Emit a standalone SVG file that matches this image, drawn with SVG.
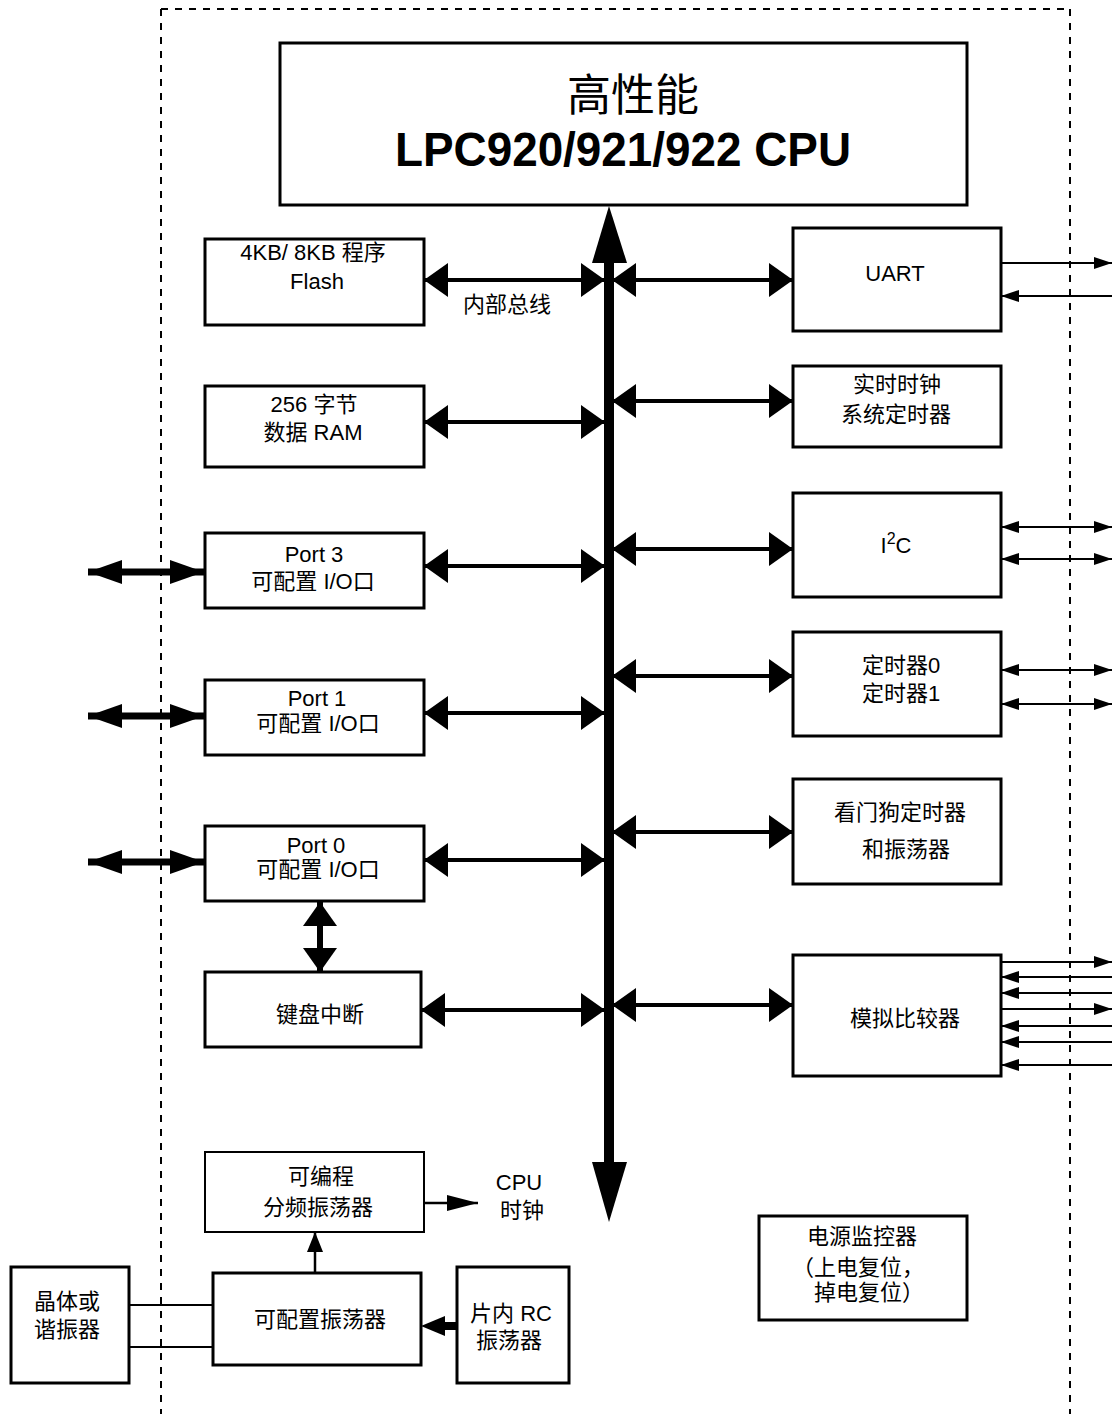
<svg xmlns="http://www.w3.org/2000/svg" width="1112" height="1414" viewBox="0 0 1112 1414">
<style>
.bx{fill:#fff;stroke:#000;stroke-width:3}
.t{font-family:"Liberation Sans","Noto Sans CJK SC",sans-serif;font-size:22px;fill:#000;text-anchor:middle}
.bus{stroke:#000;stroke-width:4;fill:none;marker-start:url(#ah);marker-end:url(#ah)}
.ext{stroke:#000;stroke-width:2;fill:none}
.port{stroke:#000;stroke-width:7;fill:none;marker-start:url(#ph);marker-end:url(#ph)}
.dash{stroke:#000;stroke-width:2;stroke-dasharray:7,7;fill:none}
</style>
<defs>
<marker id="ah" markerUnits="userSpaceOnUse" markerWidth="24" markerHeight="34" refX="24" refY="17" orient="auto-start-reverse" viewBox="0 0 24 34"><path d="M0,0 L24,17 L0,34 Z" fill="#000"/></marker>
<marker id="sa" markerUnits="userSpaceOnUse" markerWidth="18" markerHeight="12" refX="18" refY="6" orient="auto-start-reverse" viewBox="0 0 18 12"><path d="M0,0 L18,6 L0,12 Z" fill="#000"/></marker>
<marker id="ph" markerUnits="userSpaceOnUse" markerWidth="34" markerHeight="24" refX="34" refY="12" orient="auto-start-reverse" viewBox="0 0 34 24"><path d="M0,0 L34,12 L0,24 Z" fill="#000"/></marker>
</defs>
<rect width="1112" height="1414" fill="#fff"/>
<g id="border">
<path class="dash" d="M161,9 H1070 M161,9 V1414 M1070,9 V1414"/>
</g>
<g id="connectors">
<line x1="609" y1="255" x2="609" y2="1170" stroke="#000" stroke-width="10"/>
<polygon points="592,263 609,206 627,263" fill="#000"/>
<polygon points="592,1162 609,1222 627,1162" fill="#000"/>
<line class="bus" x1="424" y1="280" x2="605" y2="280"/>
<line class="bus" x1="424" y1="422" x2="605" y2="422"/>
<line class="bus" x1="424" y1="566" x2="605" y2="566"/>
<line class="bus" x1="424" y1="713" x2="605" y2="713"/>
<line class="bus" x1="424" y1="860" x2="605" y2="860"/>
<line class="bus" x1="421" y1="1010" x2="605" y2="1010"/>
<line class="bus" x1="612" y1="280" x2="793" y2="280"/>
<line class="bus" x1="612" y1="401" x2="793" y2="401"/>
<line class="bus" x1="612" y1="549" x2="793" y2="549"/>
<line class="bus" x1="612" y1="676" x2="793" y2="676"/>
<line class="bus" x1="612" y1="832" x2="793" y2="832"/>
<line class="bus" x1="612" y1="1005" x2="793" y2="1005"/>
<line class="port" x1="88" y1="572" x2="204" y2="572"/>
<line class="port" x1="88" y1="716" x2="204" y2="716"/>
<line class="port" x1="88" y1="862" x2="204" y2="862"/>
<line x1="320" y1="902" x2="320" y2="972" stroke="#000" stroke-width="6" marker-start="url(#ah)" marker-end="url(#ah)"/>
<line class="ext" x1="1001" y1="263" x2="1112" y2="263" marker-end="url(#sa)"/>
<line class="ext" x1="1112" y1="296" x2="1001" y2="296" marker-end="url(#sa)"/>
<line class="ext" x1="1001" y1="527" x2="1112" y2="527" marker-start="url(#sa)" marker-end="url(#sa)"/>
<line class="ext" x1="1001" y1="559" x2="1112" y2="559" marker-start="url(#sa)" marker-end="url(#sa)"/>
<line class="ext" x1="1001" y1="670" x2="1112" y2="670" marker-start="url(#sa)" marker-end="url(#sa)"/>
<line class="ext" x1="1001" y1="704" x2="1112" y2="704" marker-start="url(#sa)" marker-end="url(#sa)"/>
<line class="ext" x1="1001" y1="962" x2="1112" y2="962" marker-end="url(#sa)"/>
<line class="ext" x1="1112" y1="977" x2="1001" y2="977" marker-end="url(#sa)"/>
<line class="ext" x1="1112" y1="993" x2="1001" y2="993" marker-end="url(#sa)"/>
<line class="ext" x1="1001" y1="1009" x2="1112" y2="1009" marker-end="url(#sa)"/>
<line class="ext" x1="1112" y1="1026" x2="1001" y2="1026" marker-end="url(#sa)"/>
<line class="ext" x1="1112" y1="1042" x2="1001" y2="1042" marker-end="url(#sa)"/>
<line class="ext" x1="1112" y1="1065" x2="1001" y2="1065" marker-end="url(#sa)"/>
<line x1="424" y1="1203" x2="478" y2="1203" stroke="#000" stroke-width="2.5"/>
<polygon points="447,1195 478,1203 447,1211" fill="#000"/>
<line x1="315" y1="1273" x2="315" y2="1232" stroke="#000" stroke-width="2.5"/>
<polygon points="307,1252 315,1232 323,1252" fill="#000"/>
<line class="ext" x1="129" y1="1305" x2="213" y2="1305"/>
<line class="ext" x1="129" y1="1347" x2="213" y2="1347"/>
<line x1="457" y1="1326" x2="440" y2="1326" stroke="#000" stroke-width="8"/>
<polygon points="445,1316 421,1326 445,1336" fill="#000"/>
</g>
<g id="cpu"><rect class="bx" x="280" y="43" width="687" height="162"/>
<text class="t" x="633" y="111" style="font-size:44px">高性能</text>
<text class="t" x="623" y="166" style="font-size:48px;font-weight:bold" textLength="456" lengthAdjust="spacingAndGlyphs">LPC920/921/922 CPU</text></g>
<g id="flash"><rect class="bx" x="205" y="239" width="219" height="86"/>
<text class="t" x="313" y="260">4KB/ 8KB 程序</text><text class="t" x="317" y="289">Flash</text></g>
<g id="buslabel"><text class="t" x="507" y="312">内部总线</text></g>
<g id="ram"><rect class="bx" x="205" y="386" width="219" height="81"/>
<text class="t" x="314" y="412">256 字节</text><text class="t" x="313" y="440">数据 RAM</text></g>
<g id="port3"><rect class="bx" x="205" y="533" width="219" height="75"/>
<text class="t" x="314" y="562">Port 3</text><text class="t" x="313" y="589">可配置 I/O口</text></g>
<g id="port1"><rect class="bx" x="205" y="680" width="219" height="75"/>
<text class="t" x="317" y="706">Port 1</text><text class="t" x="318" y="731">可配置 I/O口</text></g>
<g id="port0"><rect class="bx" x="205" y="826" width="219" height="75"/>
<text class="t" x="316" y="853">Port 0</text><text class="t" x="318" y="877">可配置 I/O口</text></g>
<g id="kbd"><rect class="bx" x="205" y="972" width="216" height="75"/>
<text class="t" x="320" y="1022">键盘中断</text></g>
<g id="uart"><rect class="bx" x="793" y="228" width="208" height="103"/>
<text class="t" x="895" y="281">UART</text></g>
<g id="rtc"><rect class="bx" x="793" y="366" width="208" height="81"/>
<text class="t" x="897" y="392">实时时钟</text><text class="t" x="896" y="422">系统定时器</text></g>
<g id="i2c"><rect class="bx" x="793" y="493" width="208" height="104"/>
<text class="t" x="896" y="553">I<tspan dy="-9" style="font-size:16px">2</tspan><tspan dy="9">C</tspan></text></g>
<g id="timer"><rect class="bx" x="793" y="632" width="208" height="104"/>
<text class="t" x="901" y="673">定时器0</text><text class="t" x="901" y="701">定时器1</text></g>
<g id="wdt"><rect class="bx" x="793" y="779" width="208" height="105"/>
<text class="t" x="900" y="820">看门狗定时器</text><text class="t" x="906" y="857">和振荡器</text></g>
<g id="comp"><rect class="bx" x="793" y="955" width="208" height="121"/>
<text class="t" x="905" y="1026">模拟比较器</text></g>
<g id="divider"><rect class="bx" x="205" y="1152" width="219" height="80" style="stroke-width:2"/>
<text class="t" x="321" y="1184">可编程</text><text class="t" x="318" y="1215">分频振荡器</text></g>
<g id="cpuclk"><text class="t" x="519" y="1190">CPU</text><text class="t" x="522" y="1218">时钟</text></g>
<g id="osc"><rect class="bx" x="213" y="1273" width="208" height="92"/>
<text class="t" x="320" y="1327">可配置振荡器</text></g>
<g id="xtal"><rect class="bx" x="11" y="1267" width="118" height="116"/>
<text class="t" x="67" y="1309">晶体或</text><text class="t" x="67" y="1337">谐振器</text></g>
<g id="rc"><rect class="bx" x="457" y="1267" width="112" height="116"/>
<text class="t" x="511" y="1321">片内 RC</text><text class="t" x="509" y="1348">振荡器</text></g>
<g id="pwr"><rect class="bx" x="759" y="1216" width="208" height="104"/>
<text class="t" x="862" y="1244">电源监控器</text><text class="t" x="858" y="1275">（上电复位，</text><text class="t" x="869" y="1300">掉电复位）</text></g>
</svg>
